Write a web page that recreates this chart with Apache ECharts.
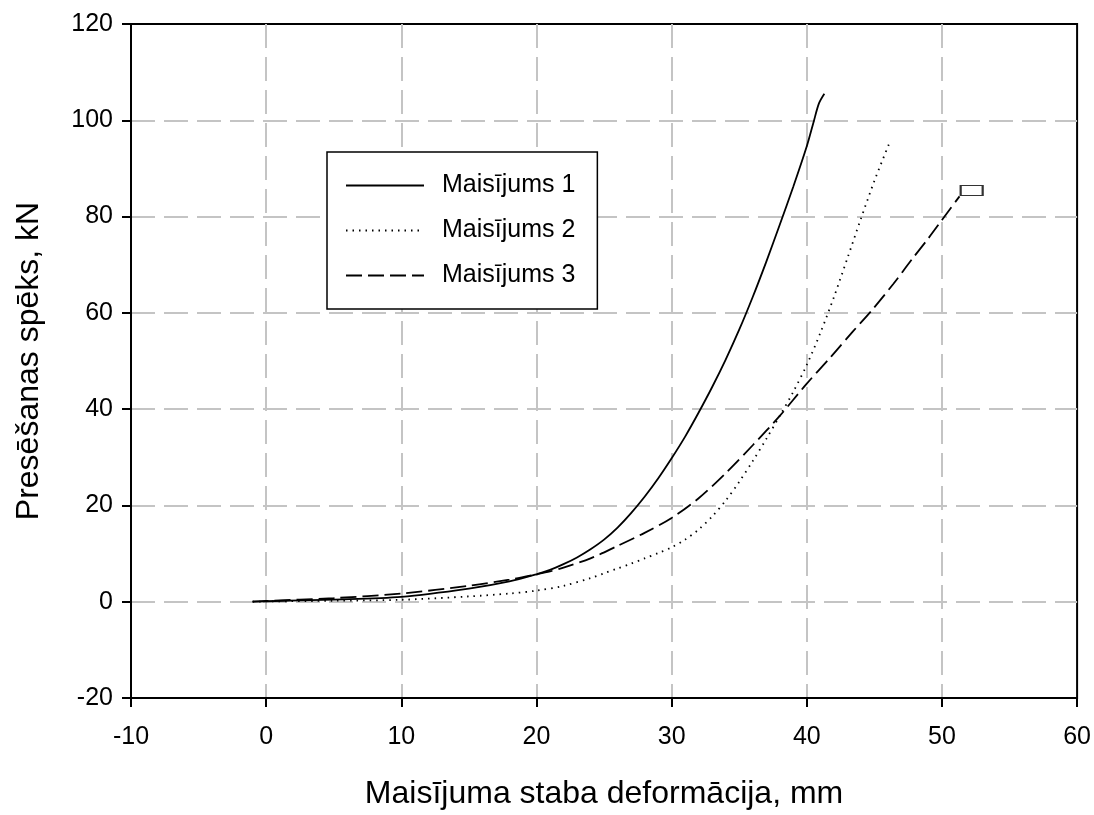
<!DOCTYPE html>
<html>
<head>
<meta charset="utf-8">
<script src="https://cdn.jsdelivr.net/npm/echarts@6/dist/echarts.min.js"></script>
<style>
  html, body { margin: 0; padding: 0; background: #fff; }
  #main { width: 1094px; height: 815px; }
</style>
</head>
<body>
<div id="main"></div>
<script>
// sērijas: [deformācija mm, spēks kN]
const seriesNames = ['Maisījums 1', 'Maisījums 2', 'Maisījums 3']
const mix1 = [[-1,0],[0,0.1],[5,0.45],[10,1.0],[15,2.7],[18,4.2],[20,5.7],[21,6.6],[22,7.8],[23,9.2],[24,10.9],[25,12.9],[26,15.4],[27,18.4],[28,21.8],[29,25.6],[30,29.8],[31,34.3],[32,39.3],[33,44.6],[34,50.3],[35,56.5],[36,63.3],[37,70.6],[38,78.3],[39,86.2],[40,94.6],[40.5,99.6],[40.9,103.5],[41.3,105.5]]
const mix2 = [[-1,0],[0,0.05],[5,0.2],[10,0.4],[15,1.1],[18,1.7],[20,2.3],[22,3.3],[24,4.9],[25,5.9],[26,6.9],[27,7.9],[28,9.0],[29,10.1],[30,11.3],[31,12.9],[32,15.0],[33,17.7],[34,21.0],[35,24.9],[36,29.2],[37,33.8],[38,38.6],[39,43.6],[40,49.2],[41,55.8],[42,63.2],[43,71.3],[44,79.5],[45,87.4],[46.1,95.2]]
const mix3 = [[-1,0],[0,0.15],[5,0.75],[10,1.7],[15,3.3],[18,4.6],[20,5.7],[21,6.3],[22,7.1],[24,9],[26,11.6],[28,14.3],[30,17.4],[32,21.5],[34,26.7],[36,32.5],[38,38.6],[40,45.3],[41.8,50.9],[43.4,56.1],[44.8,60.5],[46.4,66],[47.8,71.2],[49,75.5],[50,79.3],[51.3,84.2]]
// taisnstūra marķieris 3. līknes galā
const endMarker = [[52.2, 85.4]]
const xTicks = { min: -10, max: 60, step: 10 }
const yTicks = { min: -20, max: 120, step: 20 }

const font = 'Liberation Sans, Arial, sans-serif'
const gridLine = {
  show: true, showMinLine: false, showMaxLine: false,
  lineStyle: { color: '#c4c4c4', width: 2, type: [24, 9] }
}

const myChart = echarts.init(document.getElementById('main'))
const option = {
  animation: false,
  textStyle: { fontFamily: font },
  grid: {
    left: 131, right: 16, top: 24, bottom: 110,
    show: true, borderColor: '#000', borderWidth: 2, backgroundColor: '#fff'
  },
  legend: {
    data: seriesNames,
    orient: 'vertical',
    left: 327, top: 152,
    width: 273,
    padding: [21, 22, 21, 18],
    itemWidth: 78, itemHeight: 14, itemGap: 20,
    backgroundColor: '#fff',
    borderColor: '#000', borderWidth: 1.5, borderRadius: 0,
    itemStyle: { opacity: 0 },
    textStyle: { fontSize: 25, color: '#000', fontFamily: font, padding: [0, 0, 0, 13] }
  },
  xAxis: {
    type: 'value',
    min: xTicks.min, max: xTicks.max, interval: xTicks.step,
    name: 'Maisījuma staba deformācija, mm',
    nameLocation: 'middle', nameGap: 80,
    nameTextStyle: { fontSize: 32, color: '#000', fontFamily: font },
    axisLine: { onZero: false, lineStyle: { color: '#000', width: 2 } },
    axisTick: { show: true, length: 9, lineStyle: { color: '#000', width: 2 } },
    axisLabel: { fontSize: 25, color: '#000', margin: 27, fontFamily: font },
    splitLine: gridLine
  },
  yAxis: {
    type: 'value',
    min: yTicks.min, max: yTicks.max, interval: yTicks.step,
    name: 'Presēšanas spēks, kN',
    nameLocation: 'middle', nameGap: 86,
    nameTextStyle: { fontSize: 32, color: '#000', fontFamily: font },
    axisLine: { onZero: false, lineStyle: { color: '#000', width: 2 } },
    axisTick: { show: true, length: 9, lineStyle: { color: '#000', width: 2 } },
    axisLabel: { fontSize: 25, color: '#000', margin: 18, fontFamily: font },
    splitLine: gridLine
  },
  series: [
    {
      name: seriesNames[0], type: 'line', data: mix1, smooth: 0.3,
      symbol: 'none', color: '#000',
      lineStyle: { color: '#000', width: 1.8, type: 'solid' }
    },
    {
      name: seriesNames[1], type: 'line', data: mix2, smooth: 0.3,
      symbol: 'none', color: '#000',
      lineStyle: { color: '#000', width: 1.8, type: [1.5, 5] }
    },
    {
      name: seriesNames[2], type: 'line', data: mix3, smooth: 0.3,
      symbol: 'none', color: '#000',
      lineStyle: { color: '#000', width: 1.8, type: [16, 6] }
    },
    {
      name: 'marker', type: 'scatter', data: endMarker,
      symbol: 'rect', symbolSize: [22, 10],
      itemStyle: { color: '#fff', borderColor: '#000', borderWidth: 1.5 },
      z: 5
    }
  ]
}
myChart.setOption(option)
</script>
</body>
</html>
